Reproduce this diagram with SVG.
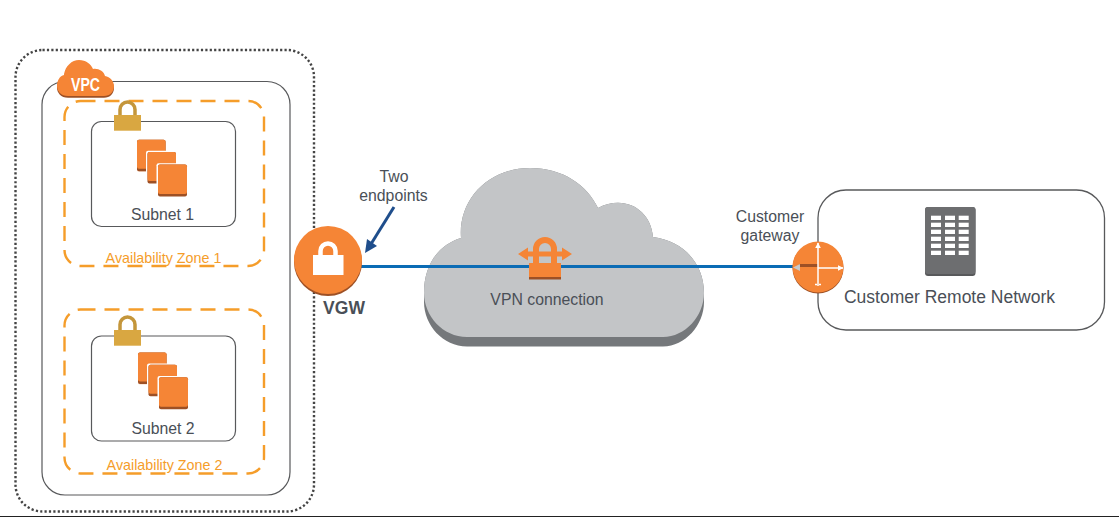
<svg xmlns="http://www.w3.org/2000/svg" width="1119" height="518" viewBox="0 0 1119 518">
<style>
text{font-family:"Liberation Sans",Arial,sans-serif;fill:#4a4f57}
.m{text-anchor:middle}
.az{fill:none;stroke:#f59d2a;stroke-width:2.4;stroke-dasharray:15 9}
.box{fill:#fff;stroke:#58595b;stroke-width:1.2}
.azt{fill:#f59d2a;font-size:14.3px;text-anchor:middle}
.or{fill:#f58536}.dk{fill:#9d5025}.au{fill:#d9a741}.win{fill:#fff}
</style>
<defs>
<g id="stack">
<rect x="0" y="0" width="29" height="32" rx="2" fill="#f9d5bd"/><rect x="0" y="0" width="28.500" height="31.500" rx="2" class="dk"/><rect x="0" y="0" width="28.500" height="29" rx="2" class="or"/>
<rect x="9" y="11" width="32" height="34" rx="2" fill="#fff"/><rect x="10.500" y="12.300" width="28.500" height="31.500" rx="2" class="dk"/><rect x="10.500" y="12.300" width="28.500" height="29" rx="2" class="or"/>
<rect x="19.500" y="23.500" width="32" height="34" rx="2" fill="#fff"/><rect x="21" y="24.700" width="29" height="32" rx="2" class="dk"/><rect x="21" y="24.700" width="29" height="29.500" rx="2" class="or"/>
</g>
<g id="lock">
<path d="M120 115.500v-6a7.500 7.500 0 0 1 15 0v6" fill="none" stroke="#c4963b" stroke-width="3.500"/>
<rect x="114" y="115" width="27" height="15.700" class="au"/>
</g>
<path id="cl" d="M68 96C61 96 57 91 57 86C57 80 60 76 64 75C65 66 72 60 79 60C86 60 91 64 93 69C98 68 104 71 105 76C110 77 114 81 114 86C114 92 110 96 104 96Z"/>
<marker id="ah" viewBox="0 0 10 10" refX="9" refY="5" markerWidth="4" markerHeight="4" orient="auto-start-reverse"><path d="M0 0L10 5L0 10z" fill="#fff"/></marker>
<filter id="sh" x="-5%" y="-5%" width="110%" height="130%"><feGaussianBlur stdDeviation="1"/></filter>
</defs>

<rect width="1119" height="518" fill="#fff"/>
<rect x="0" y="516" width="1119" height="1" fill="#222"/>

<g id="region">
<rect x="15.500" y="50" width="298.500" height="461.500" rx="27" fill="none" stroke="#444" stroke-width="2.400" stroke-dasharray="2.200 2.200"/>
</g>
<g id="vpc">
<rect x="42" y="81.500" width="248" height="413.500" rx="23" class="box"/>
<use href="#cl" y="1.700" class="dk"/>
<use href="#cl" class="or"/>
<text x="85.500" y="91" class="m" style="fill:#fff;font-weight:bold;font-size:19px" textLength="29" lengthAdjust="spacingAndGlyphs">VPC</text>
</g>
<g id="az1">
<rect x="64.500" y="101" width="199.500" height="165" rx="16" class="az"/>
<text x="163.500" y="263" class="azt">Availability Zone 1</text>
</g>
<g id="subnet1">
<rect x="91.500" y="121.500" width="144" height="105" rx="10" class="box"/>
<use href="#lock"/>
<use href="#stack" x="137" y="139.700"/>
<text x="162.500" y="220" class="m" font-size="15.800">Subnet 1</text>
</g>
<g id="az2">
<rect x="64.500" y="309.500" width="199.500" height="164" rx="16" class="az"/>
<text x="164.500" y="470" class="azt">Availability Zone 2</text>
</g>
<g id="subnet2">
<rect x="91.500" y="336" width="144" height="105" rx="10" class="box"/>
<use href="#lock" y="215"/>
<use href="#stack" x="138" y="352.500"/>
<text x="163" y="434" class="m" font-size="15.800">Subnet 2</text>
</g>

<g id="cloud">
<path d="M424 293C424 265 438 245 461 238C458 200 488 168 530 168C563 168 587 185 598 208C625 194 651 210 653 237C684 241 704 264 704 293L704 302C704 325 685 346.500 663 346.500L467 346.500C443 346.500 424 325 424 302Z" fill="#75787b"/>
<path d="M424 293C424 265 438 245 461 238C458 200 488 168 530 168C563 168 587 185 598 208C625 194 651 210 653 237C684 241 704 264 704 293C704 316 685 337 663 337L467 337C443 337 424 316 424 293Z" fill="#c3c5c7"/>
</g>

<g id="connectors">
<path d="M361 268.500H800" stroke="#aaa" stroke-width="3" fill="none" filter="url(#sh)"/>
<path d="M361 266.500H800" stroke="#0b6cb5" stroke-width="3" fill="none"/>
<path d="M394 207L371 244" stroke="#1f4e8c" stroke-width="3" fill="none"/>
<path d="M365 253L367 239L377 246z" fill="#1f4e8c"/>
</g>

<g id="vpn">
<path d="M536 263v-14a9 9 0 0 1 18 0v14" fill="none" stroke="#f58536" stroke-width="6"/>
<path d="M518 254L528 247.500V251.500H562V247.500L572 254L562 260.500V256.500H528V260.500z" class="or"/>
<rect x="529" y="263" width="32" height="14" class="or"/><rect x="529" y="277" width="32" height="2.500" class="dk"/>
<text x="547" y="305" class="m" font-size="15.800">VPN connection</text>
</g>

<g id="vgw">
<circle cx="328" cy="262" r="34" class="dk"/>
<circle cx="328" cy="260" r="34" class="or"/>
<path d="M320.500 256v-5a7.500 7.500 0 0 1 15 0v5" fill="none" stroke="#fff" stroke-width="4.500"/>
<rect x="313" y="255" width="30.500" height="20" class="win"/>
<text x="344" y="314" class="m" font-size="17.500" font-weight="bold">VGW</text>
<text x="394" y="182" class="m" font-size="15.800">Two</text>
<text x="393.500" y="200.700" class="m" font-size="15.800">endpoints</text>
</g>

<g id="customer">
<rect x="818" y="190" width="286.500" height="140" rx="28" fill="none" stroke="#58595b" stroke-width="1.300"/>
<rect x="925" y="207" width="50.500" height="69" rx="3" fill="#58595b"/>
<rect x="925" y="207" width="50.500" height="67" rx="3" fill="#6d6e70"/>
<g class="win">
<rect x="931" y="215.700" width="10" height="4.300"/><rect x="945" y="215.700" width="10" height="4.300"/><rect x="958.700" y="215.700" width="10" height="4.300"/>
<rect x="931" y="222.700" width="10" height="4.300"/><rect x="945" y="222.700" width="10" height="4.300"/><rect x="958.700" y="222.700" width="10" height="4.300"/>
<rect x="931" y="229.700" width="10" height="4.300"/><rect x="945" y="229.700" width="10" height="4.300"/><rect x="958.700" y="229.700" width="10" height="4.300"/>
<rect x="931" y="236.700" width="10" height="4.300"/><rect x="945" y="236.700" width="10" height="4.300"/><rect x="958.700" y="236.700" width="10" height="4.300"/>
<rect x="931" y="243.700" width="10" height="4.300"/><rect x="945" y="243.700" width="10" height="4.300"/><rect x="958.700" y="243.700" width="10" height="4.300"/>
<rect x="931" y="250.700" width="10" height="4.300"/><rect x="945" y="250.700" width="10" height="4.300"/><rect x="958.700" y="250.700" width="10" height="4.300"/>
</g>
<text x="949.500" y="303" class="m" font-size="17.500">Customer Remote Network</text>
<text x="770" y="222" class="m" font-size="15.800">Customer</text>
<text x="770" y="241" class="m" font-size="15.800">gateway</text>
</g>

<g id="gateway">
<circle cx="818" cy="268" r="25.500" class="dk"/>
<circle cx="818" cy="267" r="25.500" class="or"/>
<path d="M799 265.500H818" stroke="#9d5025" stroke-width="3" fill="none"/>
<path d="M818 268H843" stroke="#fff" stroke-width="1.500" fill="none" marker-end="url(#ah)"/>
<path d="M793 267.500L800 264V271z" fill="#c9c9c9"/>
<path d="M818 243V286" stroke="#fff" stroke-width="1.500" fill="none" marker-start="url(#ah)"/>
<path d="M815 284.500h2M819 284.500h2" stroke="#fff" stroke-width="1.500" fill="none"/>
</g>
</svg>
